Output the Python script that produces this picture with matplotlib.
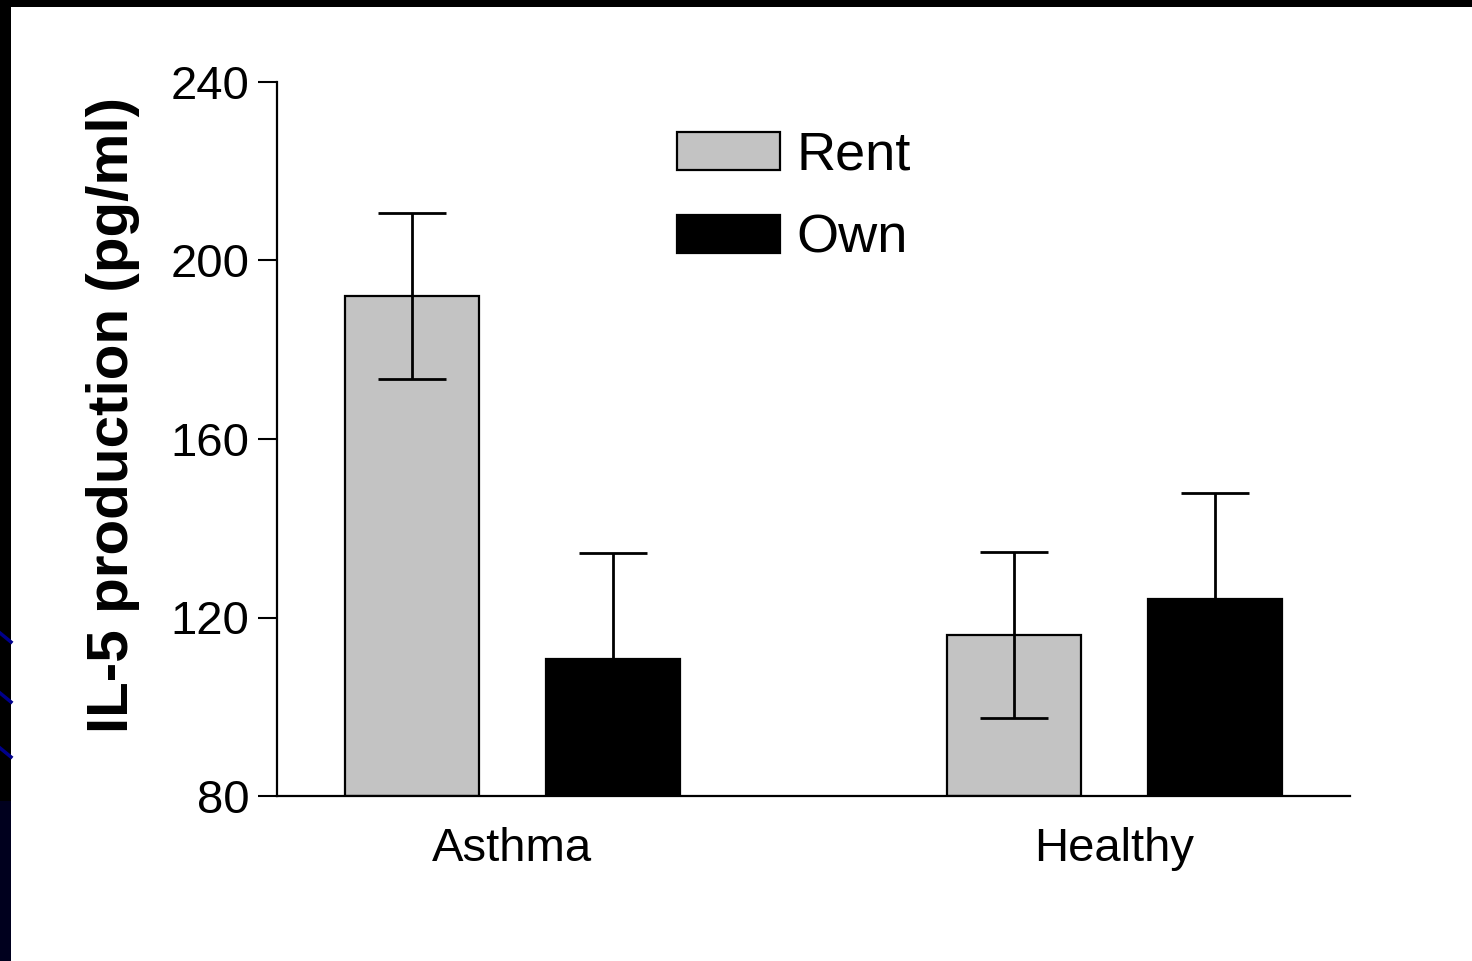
import matplotlib
matplotlib.use("Agg")
import matplotlib.pyplot as plt
import numpy as np
from matplotlib.patches import Rectangle
from matplotlib.lines import Line2D

plt.rcParams['font.family'] = ['Liberation Sans', 'DejaVu Sans']

groups = ["Asthma", "Healthy"]
series = ["Rent", "Own"]
rent_vals = [192.0, 116.0]
own_vals = [110.7, 124.2]
rent_err = [18.6, 18.6]
own_err = [23.8, 23.6]
yticks = [80, 120, 160, 200, 240]
ylabel = "IL-5 production (pg/ml)"

W, H = 1472, 961
fig = plt.figure(figsize=(W / 100, H / 100), dpi=100)
fig.patch.set_facecolor('white')

# slide border (black left/top strip with dark-blue accents)
fig.patches.append(Rectangle((0, 0), 11 / W, 1, transform=fig.transFigure,
                             facecolor='black', edgecolor='none', zorder=0))
fig.patches.append(Rectangle((0, 0), 11 / W, 160 / H, transform=fig.transFigure,
                             facecolor='#00001e', edgecolor='none', zorder=0))
fig.patches.append(Rectangle((0, 1 - 7 / H), 1, 7 / H, transform=fig.transFigure,
                             facecolor='black', edgecolor='none', zorder=0))
for y0 in (633, 693, 748):
    fig.lines.append(Line2D([0, 11 / W], [1 - y0 / H, 1 - (y0 + 9) / H],
                            transform=fig.transFigure, color='#00008b', linewidth=2.5))

ax = fig.add_axes([277 / W, 1 - 796 / H, (1350 - 277) / W, (796 - 82) / H])

x = np.arange(len(groups))
offset = 100.5 / 602
width = 134 / 602

ax.bar(x - offset, [v - 80 for v in rent_vals], width, bottom=80,
       color='#c3c3c3', edgecolor='black', linewidth=1.6, label=series[0], zorder=2)
ax.bar(x + offset, [v - 80 for v in own_vals], width, bottom=80,
       color='black', edgecolor='black', linewidth=1.6, label=series[1], zorder=2)

ax.errorbar(x - offset, rent_vals, yerr=rent_err, fmt='none', ecolor='black',
            elinewidth=2.0, capsize=24.5, capthick=2.0, zorder=3)
ax.errorbar(x + offset, own_vals, yerr=own_err, fmt='none', ecolor='black',
            elinewidth=2.0, capsize=24.5, capthick=2.0, zorder=3)

ax.set_xlim(-235 / 602, 838 / 602)
ax.set_ylim(80, 240)
ax.set_yticks(yticks)
ax.set_yticklabels([str(t) for t in yticks], fontsize=34)
ax.set_xticks(x)
ax.set_xticklabels(groups, fontsize=34)
ax.tick_params(axis='x', length=0, pad=22)
ax.tick_params(axis='y', direction='out', length=14, width=1.5, pad=6)

for s in ['top', 'right']:
    ax.spines[s].set_visible(False)
for s in ['left', 'bottom']:
    ax.spines[s].set_linewidth(1.6)

ax.set_ylabel(ylabel, fontsize=42, fontweight='bold')
ax.yaxis.set_label_coords(-0.128, 0.534)

leg = ax.legend(loc='upper left', bbox_to_anchor=(677 / W, 1 - 131 / H),
                bbox_transform=fig.transFigure, frameon=False, fontsize=39,
                handlelength=1.9, handleheight=0.7, handletextpad=0.3,
                labelspacing=0.6, borderpad=0, borderaxespad=0)
for t in leg.get_texts():
    t.set_fontfamily(['Liberation Sans Narrow', 'Liberation Sans'])

fig.savefig("out.png", dpi=100, facecolor=fig.get_facecolor())
